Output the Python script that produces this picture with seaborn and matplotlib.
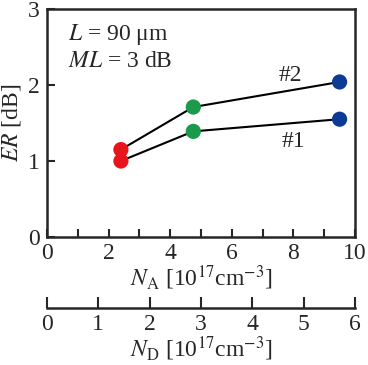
import matplotlib
matplotlib.use("Agg")
import matplotlib.pyplot as plt
import seaborn as sns
import pandas as pd

sns.set_style("ticks")
plt.rcParams['font.family'] = ['Liberation Serif', 'DejaVu Serif']
plt.rcParams['mathtext.fontset'] = 'stix'

# data
na = [2.4, 4.75, 9.5]
er1 = [1.0, 1.39, 1.55]
er2 = [1.15, 1.71, 2.04]
point_colors = ['#e8141c', '#1a9a4a', '#0c3a95']
x_ticks = list(range(0, 11))
x_labels = ['0', '', '2', '', '4', '', '6', '', '8', '', '10']
y_ticks = [0, 1, 2, 3]
nd_ticks = [0, 1, 2, 3, 4, 5, 6]

df = pd.DataFrame({
    'NA': na * 2,
    'ER': er1 + er2,
    'dev': ['#1'] * 3 + ['#2'] * 3,
    'grp': ['r', 'g', 'b'] * 2,
})

fig = plt.figure(figsize=(3.68, 3.65), dpi=100)
ax = fig.add_axes([47/368, 1-237/365, (355-47)/368, (237-9)/365])

sns.lineplot(data=df, x='NA', y='ER', units='dev', estimator=None,
             color='black', lw=1.5, ax=ax, legend=False)
sns.scatterplot(data=df, x='NA', y='ER', hue='grp',
                palette=dict(zip(['r', 'g', 'b'], point_colors)),
                s=120, edgecolor='none', ax=ax, legend=False, zorder=3)

ax.set_xlim(0, 10)
ax.set_ylim(0, 3)
ax.set_xticks(x_ticks)
ax.set_xticklabels(x_labels)
ax.set_yticks(y_ticks)
fs = 17
ax.tick_params(direction='in', length=6, width=1.5, labelsize=fs,
               top=False, right=False)
ax.tick_params(axis='x', pad=4)
ax.tick_params(axis='y', pad=5)
for s in ax.spines.values():
    s.set_linewidth(1.8)
ax.set_xlabel(r'$N_{\rm A}$ [10$^{17}$cm$^{-3}$]', fontsize=fs, labelpad=0)
ax.set_ylabel(r'$ER$ [dB]', fontsize=fs, labelpad=4)

ax.text(0.068, 0.886, r'$L$ = 90 μm', transform=ax.transAxes, fontsize=fs,
        va='center', ha='left')
ax.text(0.068, 0.768, r'$ML$ = 3 dB', transform=ax.transAxes, fontsize=fs,
        va='center', ha='left')
ax.text(0.79, 0.71, '#2', transform=ax.transAxes, fontsize=fs,
        va='center', ha='center')
ax.text(0.80, 0.417, '#1', transform=ax.transAxes, fontsize=fs,
        va='center', ha='center')

ax2 = fig.add_axes([47/368, 1-308/365, (355-47)/368, 0.001])
ax2.set_xlim(0, 6)
ax2.set_xticks(nd_ticks)
ax2.set_yticks([])
for side in ['left', 'right', 'top']:
    ax2.spines[side].set_visible(False)
ax2.spines['bottom'].set_linewidth(1.8)
ax2.patch.set_alpha(0)
ax2.tick_params(direction='in', length=8, width=1.5, labelsize=fs, pad=4)
ax2.set_xlabel(r'$N_{\rm D}$ [10$^{17}$cm$^{-3}$]', fontsize=fs, labelpad=0)

fig.savefig('out.png', dpi=100)
